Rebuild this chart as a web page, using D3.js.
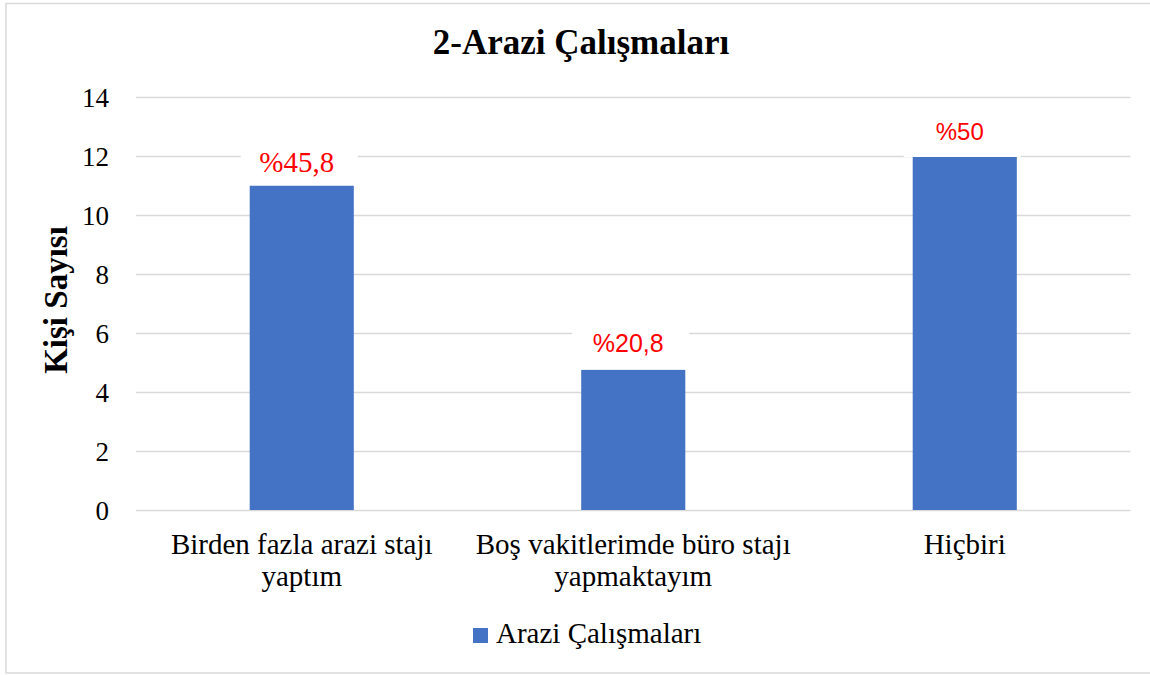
<!DOCTYPE html>
<html><head><meta charset="utf-8">
<script src="https://cdn.jsdelivr.net/npm/d3@7"></script>
<style>body{margin:0;background:#fff}</style>
</head><body>
<svg id="c" width="1150" height="675"></svg>
<script>
const categories = [["Birden fazla arazi stajı","yaptım"],["Boş vakitlerimde büro stajı","yapmaktayım"],["Hiçbiri"]];
const values = [11, 4.75, 12];
const labels = ["%45,8", "%20,8", "%50"];
const yTicks = [0, 2, 4, 6, 8, 10, 12, 14];
const seriesName = "Arazi Çalışmaları";
const title = "2-Arazi Çalışmaları";
const yTitle = "Kişi Sayısı";

const svg = d3.select("#c");
const serif = "'Liberation Serif', 'Times New Roman', serif";
const sans = "'Liberation Sans', Arial, sans-serif";
svg.append("rect").attr("x",6).attr("y",3.5).attr("width",1160).attr("height",669.5)
  .attr("fill","#fff").attr("stroke","#d9d9d9").attr("stroke-width",1.5);

const pLeft = 136, pRight = 1130.5, pTop = 97, pBottom = 510;
const x = d3.scaleBand().domain(d3.range(values.length)).range([pLeft, pRight]).paddingInner(0.686).paddingOuter(0.343);
const y = d3.scaleLinear().domain([0, 14]).range([pBottom, pTop]);

// gridlines + tick labels
const yAxis = d3.axisLeft(y).tickValues(yTicks).tickSize(-(pRight-pLeft)).tickPadding(27);
const ga = svg.append("g").attr("transform",`translate(${pLeft},0)`).call(yAxis);
ga.attr("font-family", null).attr("font-size", null);
ga.select(".domain").remove();
ga.selectAll(".tick line").attr("stroke","#d9d9d9").attr("stroke-width",1.5);
ga.selectAll(".tick text").style("font-family",serif).style("font-size","27px").attr("fill","#000").attr("dy","0.34em");

// bars
svg.append("g").selectAll("rect").data(values).join("rect")
  .attr("x",(d,i)=>x(i)).attr("width",x.bandwidth())
  .attr("y",d=>y(d)).attr("height",d=>y(0)-y(d)).attr("fill","#4472c4");

// data labels with white boxes
const lblFonts = [serif, sans, sans];
const lblSizes = [29, 25, 24];
const lg = svg.append("g");
values.forEach((v,i)=>{
  const cx = x(i)+x.bandwidth()/2 - 5;
  const cy = y(v) - (i===1 ? 27 : 24);
  lg.append("rect").attr("x",cx-56).attr("y",cy-20).attr("width",117).attr("height",i===0?44:45).attr("fill","#fff");
  lg.append("text").attr("x",cx).attr("y",cy).attr("text-anchor","middle")
    .attr("dy","0.35em").style("font-family",lblFonts[i]).style("font-size",lblSizes[i]+"px")
    .attr("fill","#ff0000").text(labels[i]);
});

// x labels
const xg = svg.append("g");
categories.forEach((lines,i)=>{
  const cx = x(i)+x.bandwidth()/2;
  const t = xg.append("text").attr("x",cx).attr("y",554)
    .attr("text-anchor","middle").style("font-family",serif).style("font-size","29px").attr("fill","#000");
  lines.forEach((l,j)=>t.append("tspan").attr("x",cx).attr("dy",j===0?0:32).text(l));
});

// title
svg.append("text").attr("x",581).attr("y",54).attr("text-anchor","middle")
  .style("font-family",serif).style("font-weight","bold").style("font-size","35px").text(title);

// y title
svg.append("text").attr("transform","translate(67,300) rotate(-90)").attr("text-anchor","middle")
  .style("font-family",serif).style("font-weight","bold").style("font-size","33px").text(yTitle);

// legend
svg.append("rect").attr("x",473).attr("y",628).attr("width",15).attr("height",15).attr("fill","#4472c4");
svg.append("text").attr("x",496).attr("y",643).style("font-family",serif).style("font-size","29px").attr("fill","#000").text(seriesName);
</script>
</body></html>
